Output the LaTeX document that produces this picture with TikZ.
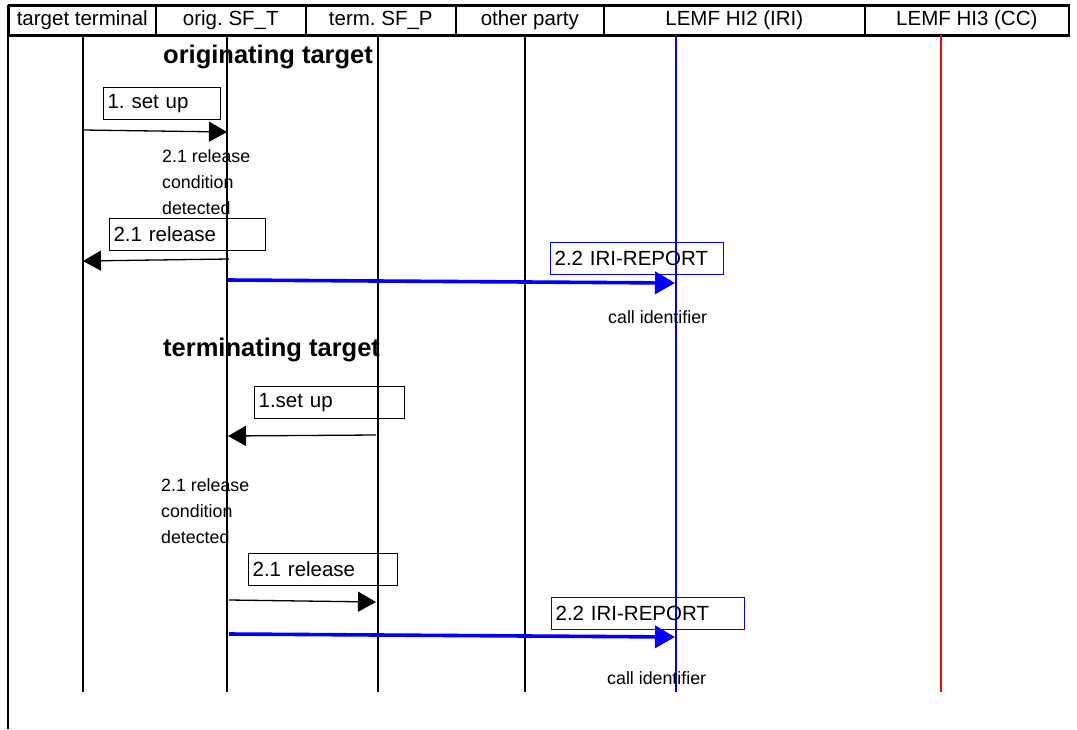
\documentclass[tikz,border=0pt]{standalone}
\usepackage{fontspec}
\setmainfont{Liberation Sans}
\usetikzlibrary{arrows.meta, positioning}
\frenchspacing

\begin{document}
\begin{tikzpicture}[x=1pt, y=-1pt,
    hdr/.style={draw, line width=1.6pt, minimum height=29pt, inner sep=0pt, anchor=north west, font=\fontsize{20.5}{22}\selectfont},
    life/.style={line width=1.3pt},
    msgbox/.style={draw, line width=1.2pt, minimum height=32pt, inner sep=4pt, anchor=north west, align=left, font=\fontsize{20.5}{22}\selectfont},
    note/.style={anchor=north west, align=left, inner sep=0pt, font=\fontsize{17.8}{26}\selectfont},
    phase/.style={anchor=west, inner sep=0pt, font=\bfseries\fontsize{25.5}{27}\selectfont},
    msg/.style={-{Triangle[length=18pt,width=20pt]}, line width=1.3pt},
    iri/.style={-{Triangle[length=20pt,width=22pt]}, line width=3.6pt, blue}
]
\useasboundingbox (0,0) rectangle (1077,729);

% Header
\node[hdr, minimum width=147pt] (h1) at (8,5) {target terminal};
\node[hdr, minimum width=150pt] (h2) at (155,5) {orig. SF\_T};
\node[hdr, minimum width=150pt] (h3) at (305,5) {term. SF\_P};
\node[hdr, minimum width=148pt] (h4) at (455,5) {other party};
\node[hdr, minimum width=261pt] (h5) at (603,5) {LEMF HI2 (IRI)};
\node[hdr, minimum width=204pt] (h6) at (864,5) {LEMF HI3 (CC)};
\draw[line width=3pt] (h1.north west) -- (h6.north east);
\draw[line width=3pt] (h1.south west) -- (h6.south east);
\draw[line width=2pt] (8,5) -- (8,729);

% Lifelines
\coordinate (tt) at (83,35);  \coordinate (tt-end) at (83,692);
\coordinate (ot) at (227,35); \coordinate (ot-end) at (227,692);
\coordinate (tp) at (378,35); \coordinate (tp-end) at (378,692);
\coordinate (op) at (525,35); \coordinate (op-end) at (525,692);
\coordinate (hi2) at (676,35); \coordinate (hi2-end) at (676,692);
\coordinate (hi3) at (941,35); \coordinate (hi3-end) at (941,692);
\draw[life] (tt) -- (tt-end);
\draw[life] (ot) -- (ot-end);
\draw[life] (tp) -- (tp-end);
\draw[life] (op) -- (op-end);
\draw[life, blue] (hi2) -- (hi2-end);
\draw[life, red] (hi3) -- (hi3-end);

% originating target
\node[phase] (orig) at (163,57) {originating target};
\node[msgbox, text width=109pt] (setup1) at (103,87) {1. set up};
\coordinate (a1s) at (83,130); \coordinate (a1e) at (227,132);
\draw[msg] (a1s) -- (a1e);
\node[note] (cond1) at (162,149) {2.1 release\\condition\\detected};
\node[msgbox, text width=148pt] (rel1) at (109,218) {2.1 release};
\coordinate (a2s) at (229,259); \coordinate (a2e) at (83,261);
\draw[msg] (a2s) -- (a2e);
\node[msgbox, blue, text=black, text width=165pt] (iri1) at (550,242) {2.2 IRI-REPORT};
\coordinate (a3s) at (228,280); \coordinate (a3e) at (675,283);
\draw[iri] (a3s) -- (a3e);
\node[note] (cid1) at (608,310) {call identifier};

% terminating target
\node[phase] (term) at (163,350) {terminating target};
\node[msgbox, text width=142pt] (setup2) at (254,386) {1.set up};
\coordinate (b1s) at (376,435); \coordinate (b1e) at (228,436);
\draw[msg] (b1s) -- (b1e);
\node[note] (cond2) at (161,478) {2.1 release\\condition\\detected};
\node[msgbox, text width=141pt] (rel2) at (248,553) {2.1 release};
\coordinate (b2s) at (229,600); \coordinate (b2e) at (376,602);
\draw[msg] (b2s) -- (b2e);
\node[msgbox, blue, text=black, text width=185pt] (iri2) at (551,597) {2.2 IRI-REPORT};
\coordinate (b3s) at (229,634); \coordinate (b3e) at (675,637);
\draw[iri] (b3s) -- (b3e);
\node[note] (cid2) at (607,671) {call identifier};

\end{tikzpicture}
\end{document}
